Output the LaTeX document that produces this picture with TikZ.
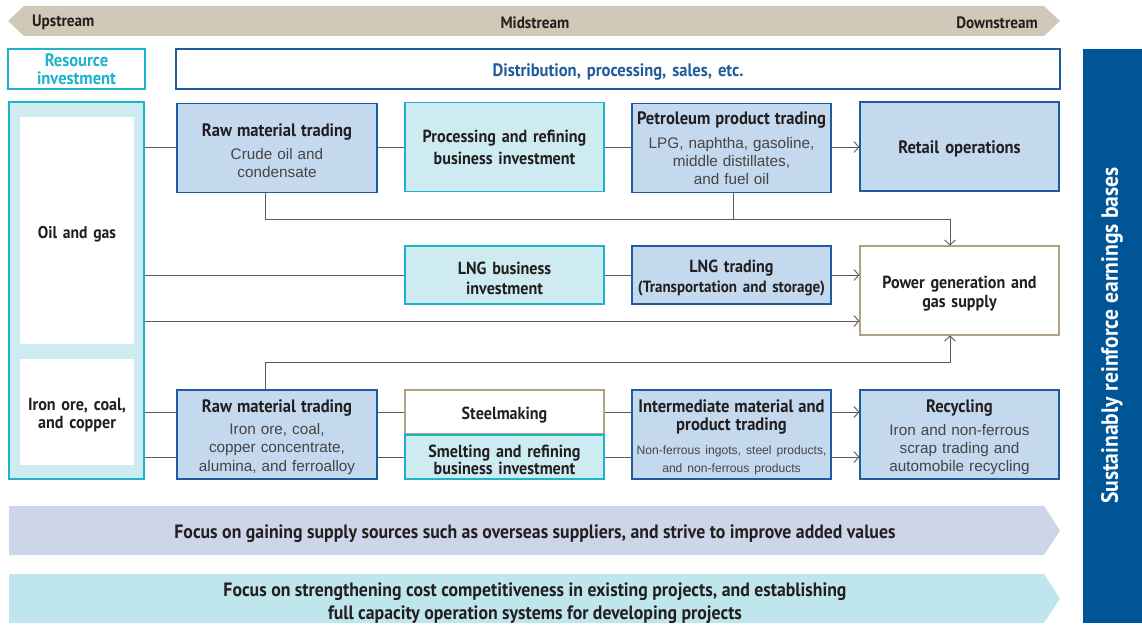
\documentclass[tikz,border=0pt]{standalone}
\usepackage{fontspec}
\setmainfont{PT Sans}
\newfontfamily\titlefont{PT Sans}[FakeStretch=0.92]
\newfontfamily\subfont{Liberation Sans}
\usetikzlibrary{arrows.meta}
\definecolor{tan}{HTML}{D0C9B8}
\definecolor{tanborder}{HTML}{B0A47E}
\definecolor{cyanb}{HTML}{1DB3C9}
\definecolor{cyanf}{HTML}{CDEBF0}
\definecolor{blueb}{HTML}{1F5C9E}
\definecolor{bluef}{HTML}{C4D8EE}
\definecolor{navy}{HTML}{005597}
\definecolor{lav}{HTML}{CDD5E8}
\definecolor{aqua}{HTML}{C0E6ED}
\definecolor{txt}{HTML}{231F20}
\definecolor{subtxt}{HTML}{454545}
\definecolor{conn}{HTML}{5A5A5A}
\newcommand{\ttltx}{\titlefont\bfseries\fontsize{18}{18}\selectfont}
\newcommand{\subtx}{\subfont\mdseries\fontsize{15.3}{18}\selectfont\color{subtxt}}
\newcommand{\smalltx}{\subfont\mdseries\fontsize{12.1}{18}\selectfont\color{subtxt}}
\tikzset{
  base0/.style={inner sep=0pt, align=center, text=txt, line width=1.1pt, text width=197pt},
  base/.style={base0, execute at begin node={\rule{0pt}{18.5pt}}},
  bluebox0/.style={base0, draw=blueb, fill=bluef, font=\fontsize{15}{18}\selectfont},
  cyanbox0/.style={base0, draw=cyanb, fill=cyanf},
  bluebox/.style={base, draw=blueb, fill=bluef, font=\fontsize{15}{18}\selectfont},
  cyanbox/.style={base, draw=cyanb, fill=cyanf},
  tanbox/.style={base, draw=tanborder, fill=white},
  ttl/.style={font=\titlefont\bfseries\fontsize{17.5}{20}\selectfont},
  conn/.style={draw=conn, line width=1pt},
  arr/.style={conn, -{Straight Barb[length=5pt,width=11pt,line width=0.9pt]}},
  stream/.style={font=\titlefont\bfseries\fontsize{16.5}{18}\selectfont, text=txt, inner sep=0pt},
  band/.style={align=center, font=\titlefont\bfseries\fontsize{19.3}{23}\selectfont, text=txt},
}
\begin{document}
\begin{tikzpicture}[x=1pt,y=-1pt]
\useasboundingbox (0,0) rectangle (1142,626);
% top band
\fill[tan] (8,21) -- (24,6) -- (1044,6) -- (1060,21) -- (1044,36) -- (24,36) -- cycle;
\node[anchor=west, stream] (up) at (32,22.5) {Upstream};
\node[stream] (mid) at (535,22.5) {Midstream};
\node[anchor=east, stream] (down) at (1038,22.5) {Downstream};
% header boxes
\node[base0, text width=135pt, draw=cyanb, fill=white, minimum width=137pt, minimum height=40pt, text=cyanb, font=\titlefont\bfseries\fontsize{18}{18}\selectfont] (res) at (76.5,69) {Resource\\investment};
\node[base, text width=880pt, draw=blueb, fill=white, minimum width=884pt, minimum height=40pt, text=blueb, font=\titlefont\bfseries\fontsize{18}{20}\selectfont] (dist) at (618,69) {Distribution, processing, sales, etc.};
% left column
\node[cyanbox0, text width=130pt, minimum width=135pt, minimum height=377pt] (left) at (76.5,290.5) {};
\node[base0, fill=white, text width=112pt, minimum width=114pt, minimum height=227pt, font=\titlefont\bfseries\fontsize{17}{18}\selectfont, execute at begin node={\rule{0pt}{20pt}}] (oil) at (77,230.5) {Oil and gas};
\node[base, fill=white, text width=112pt, minimum width=114pt, minimum height=106pt, font=\titlefont\bfseries\fontsize{17.5}{18.5}\selectfont] (iron) at (77,412) {Iron ore, coal,\\and copper};
% oil row
\node[bluebox, minimum width=200pt, minimum height=89pt] (raw1) at (277,148) {\ttltx Raw material trading\\[5pt]\subtx Crude oil and\\condensate};
\node[cyanbox0, minimum width=199pt, minimum height=89pt, font=\titlefont\bfseries\fontsize{17.5}{22}\selectfont] (proc) at (504.5,147) {Processing and refining\\business investment};
\node[bluebox0, minimum width=199pt, minimum height=89pt] (pet) at (731.5,148) {\ttltx Petroleum product trading\\[6pt]\subtx LPG, naphtha, gasoline,\\middle distillates,\\and fuel oil};
\node[bluebox, minimum width=199pt, minimum height=89pt, font=\ttltx] (retail) at (959.5,146.5) {Retail operations};
% LNG row
\node[cyanbox, minimum width=199pt, minimum height=58pt, ttl] (lnginv) at (504.5,275) {LNG business\\investment};
\node[bluebox, minimum width=199pt, minimum height=58pt, font=\titlefont\bfseries\fontsize{17.5}{19.5}\selectfont] (lngtr) at (731.5,275) {LNG trading\\{\fontsize{16.3}{19.5}\selectfont(Transportation and storage)}};
\node[tanbox, minimum width=199pt, minimum height=89pt, font=\titlefont\bfseries\fontsize{17.5}{19}\selectfont] (power) at (959.5,290.5) {Power generation and\\gas supply};
% iron row
\node[bluebox, minimum width=200pt, minimum height=89pt, font=\fontsize{15}{18.5}\selectfont] (raw2) at (277,434.5) {\ttltx Raw material trading\\[4pt]\subtx Iron ore, coal,\\copper concentrate,\\alumina, and ferroalloy};
\node[tanbox, minimum width=199pt, minimum height=44pt, ttl] (steel) at (504.5,412) {Steelmaking};
\node[cyanbox, minimum width=199pt, minimum height=44pt, font=\titlefont\bfseries\fontsize{17.5}{17}\selectfont] (smelt) at (504.5,457) {Smelting and refining\\business investment};
\node[bluebox, minimum width=199pt, minimum height=89pt] (inter) at (731.5,434.5) {\ttltx Intermediate material and\\product trading\\[6pt]\smalltx Non-ferrous ingots, steel products,\\and non-ferrous products};
\node[bluebox, minimum width=199pt, minimum height=89pt, font=\fontsize{15}{18.5}\selectfont] (recyc) at (959.5,434.5) {\ttltx Recycling\\[5pt]\subtx Iron and non-ferrous\\scrap trading and\\automobile recycling};
% right bar
\node[fill=navy, minimum width=59pt, minimum height=574pt, inner sep=0pt] (bar) at (1112.5,336) {};
\node[rotate=90, text=white, font=\titlefont\bfseries\fontsize{23.5}{26}\selectfont] (bartxt) at (1112,335.5) {Sustainably reinforce earnings bases};
% bottom bands
\fill[lav] (9,506) -- (1044,506) -- (1060,530.5) -- (1044,555) -- (9,555) -- cycle;
\node[band] (focus1) at (535,534) {Focus on gaining supply sources such as overseas suppliers, and strive to improve added values};
\fill[aqua] (9,574) -- (1044,574) -- (1060,598.5) -- (1044,623) -- (9,623) -- cycle;
\node[band] (focus2) at (535,603) {Focus on strengthening cost competitiveness in existing projects, and establishing\\full capacity operation systems for developing projects};
% connectors: oil row
\draw[conn] (left.east |- 0,147) -- (raw1.west |- 0,147);
\draw[conn] (raw1.east |- 0,147) -- (proc.west |- 0,147);
\draw[conn] (proc.east |- 0,147) -- (pet.west |- 0,147);
\draw[arr] (pet.east |- 0,147) -- (retail.west |- 0,147);
\coordinate (j1) at (265,219);
\coordinate (j2) at (950,219);
\draw[arr] (raw1.south -| j1) -- (j1) -- (j2) -- (power.north -| j2);
\draw[conn] (pet.south -| 733,0) -- (733,219);
% LNG row
\draw[conn] (left.east |- 0,275) -- (lnginv.west |- 0,275);
\draw[conn] (lnginv.east) -- (lngtr.west |- lnginv.east);
\draw[arr] (lngtr.east |- lnginv.east) -- (power.west |- lnginv.east);
\draw[arr] (left.east |- 0,321) -- (power.west |- 0,321);
% iron row
\coordinate (j3) at (265,362);
\coordinate (j4) at (950,362);
\draw[arr] (raw2.north -| j3) -- (j3) -- (j4) -- (power.south -| j4);
\draw[conn] (left.east |- 0,412) -- (raw2.west |- 0,412);
\draw[conn] (left.east |- 0,457) -- (raw2.west |- 0,457);
\draw[conn] (raw2.east |- 0,412) -- (steel.west |- 0,412);
\draw[conn] (raw2.east |- 0,457) -- (smelt.west |- 0,457);
\draw[conn] (steel.east |- 0,412) -- (inter.west |- 0,412);
\draw[conn] (smelt.east |- 0,457) -- (inter.west |- 0,457);
\draw[arr] (inter.east |- 0,412) -- (recyc.west |- 0,412);
\draw[arr] (inter.east |- 0,457) -- (recyc.west |- 0,457);
\end{tikzpicture}
\end{document}
